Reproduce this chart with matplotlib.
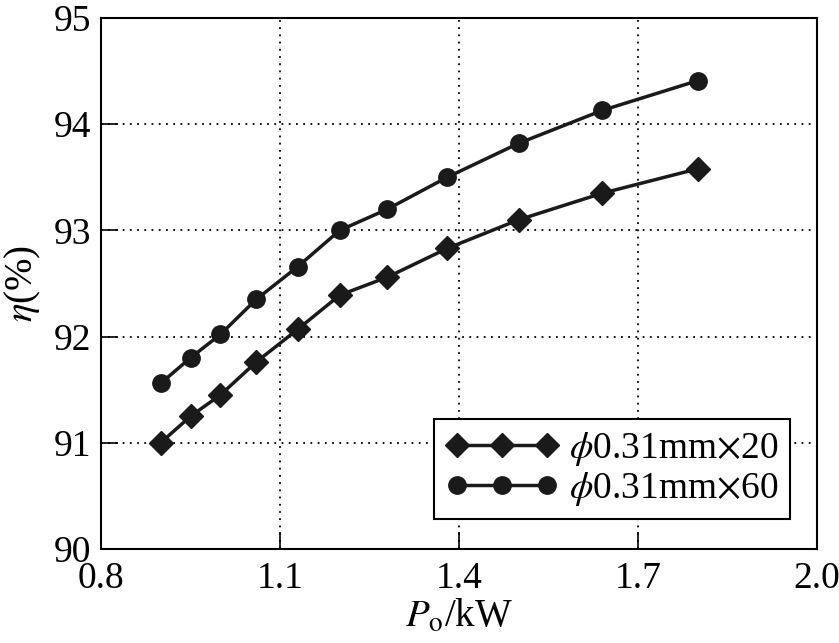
import matplotlib
matplotlib.use('Agg')
import matplotlib.pyplot as plt

# P_o (kW) and efficiency (%)
p_out = [0.90, 0.95, 1.00, 1.06, 1.13, 1.20, 1.28, 1.38, 1.50, 1.64, 1.80]
eta_20 = [91.00, 91.25, 91.45, 91.76, 92.07, 92.39, 92.56, 92.83, 93.10, 93.35, 93.58]
eta_60 = [91.56, 91.80, 92.02, 92.35, 92.66, 93.00, 93.20, 93.50, 93.82, 94.13, 94.41]

label_20 = r'$\phi$0.31mm$\times$20'
label_60 = r'$\phi$0.31mm$\times$60'

x_ticks = [0.8, 1.1, 1.4, 1.7, 2.0]
y_ticks = [90, 91, 92, 93, 94, 95]

plt.rcParams['font.family'] = ['Liberation Serif', 'DejaVu Serif']
plt.rcParams['mathtext.fontset'] = 'stix'

fig = plt.figure(figsize=(8.39, 6.43), dpi=100)
ax = fig.add_axes([0.1204, 0.1462, 0.8534, 0.8258])

ink = '#1a1a1a'
ax.plot(p_out, eta_20, '-', color=ink, lw=2.5, marker='D', ms=12,
        label=label_20)
ax.plot(p_out, eta_60, '-', color=ink, lw=2.5, marker='o', ms=12.5,
        label=label_60)

ax.set_xlim(0.8, 2.0)
ax.set_ylim(90, 95)
ax.set_xticks(x_ticks)
ax.set_xticklabels([f'{v:.1f}' for v in x_ticks])
ax.set_yticks(y_ticks)
ax.tick_params(direction='in', length=12, width=1.2, labelsize=27)
ax.tick_params(axis='x', pad=9)
ax.tick_params(axis='y', pad=7)
ax.grid(True, color='black', ls=(0, (1, 3)), lw=1.3)
for sp in ax.spines.values():
    sp.set_linewidth(1.5)

ax.set_xlabel(r'$P_{\mathrm{o}}$/kW', fontsize=28, labelpad=2)
ax.set_ylabel(r'$\eta$(%)', fontsize=28, labelpad=8)

leg = ax.legend(loc='lower right', bbox_to_anchor=(0.962, 0.0565),
                borderaxespad=0, numpoints=3, fontsize=27, fancybox=False,
                framealpha=1, edgecolor='black', handlelength=3.0,
                handletextpad=0.3, labelspacing=0.05, borderpad=0.3)
leg.get_frame().set_linewidth(1.5)

fig.savefig('out.png', dpi=100)
